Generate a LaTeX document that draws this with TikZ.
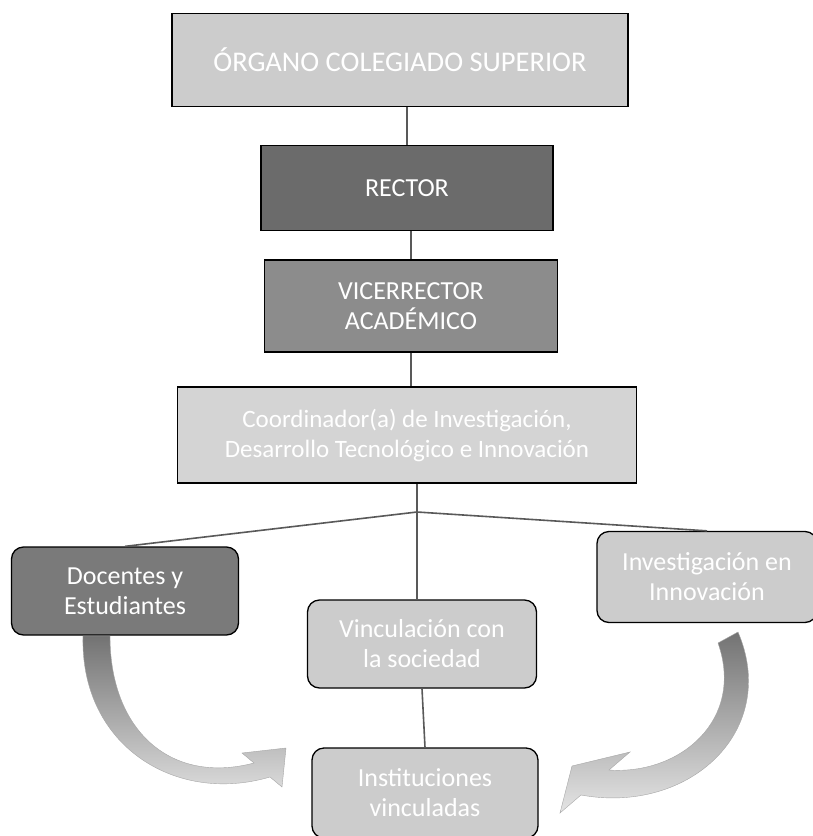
\documentclass[tikz,border=0pt]{standalone}
\usepackage{fontspec}
\setmainfont{Carlito}
\begin{document}
\begin{tikzpicture}[x=1pt,y=-1pt,
  box/.style={draw=black, line width=1.3pt, text=white, align=center, inner sep=0pt},
  rbox/.style={box, rounded corners=12pt},
  lightfill/.style={fill=black!20},
  conn/.style={draw=black!65, line width=1.6pt},
  curv/.style={draw=black!35, line width=0.4pt, top color=black!55, bottom color=black!10},
  toptxt/.style={font=\fontsize{28.5}{33}\selectfont},
  bigtxt/.style={font=\fontsize{26}{30}\selectfont},
  midtxt/.style={font=\fontsize{25}{30}\selectfont}]
\useasboundingbox (0,0) rectangle (813,836);
% boxes
\node[box, lightfill, minimum width=456pt, minimum height=93pt, toptxt] (org) at (400,60) {ÓRGANO COLEGIADO SUPERIOR};
\node[box, fill=black!58, minimum width=292pt, minimum height=85pt, bigtxt] (rector) at (407,188) {RECTOR};
\node[box, fill=black!45, minimum width=293pt, minimum height=92pt, bigtxt] (vice) at (411,306) {VICERRECTOR\\ACADÉMICO};
\node[box, fill=black!17, minimum width=459pt, minimum height=96pt, midtxt] (coord) at (407,435) {Coordinador(a) de Investigación,\\Desarrollo Tecnológico e Innovación};
\node[rbox, fill=black!52, minimum width=227pt, minimum height=88pt, bigtxt] (doc) at (125,591) {Docentes y\\Estudiantes};
\node[rbox, lightfill, minimum width=220pt, minimum height=91pt, bigtxt] (inv) at (707,577) {Investigación en\\Innovación};
\node[rbox, lightfill, minimum width=229pt, minimum height=88pt, bigtxt] (vinc) at (422,644) {Vinculación con\\la sociedad};
\node[rbox, lightfill, minimum width=226pt, minimum height=90pt, bigtxt] (inst) at (425,793) {Instituciones\\vinculadas};
% connectors
\coordinate (branch) at (417,512);
\draw[conn] (rector.north) -- (rector.north |- org.south);
\draw[conn] (rector.south -| vice.north) -- (vice.north);
\draw[conn] (vice.south) -- (vice.south |- coord.north);
\draw[conn] (coord.south -| branch) -- (branch);
\draw[conn] (branch) -- (doc.north);
\draw[conn] (branch) -- (inv.north);
\draw[conn] (branch) -- (vinc.north -| branch);
\draw[conn] (vinc.south) -- (inst.north);
% curved arrows
\path[curv] (83,636) .. controls (80,745) and (175,805) .. (270,777) -- (282,787) -- (286,748) -- (242,753) -- (254,763) .. controls (170,785) and (110,730) .. (110,636) -- cycle;
\path[curv] (718,643) .. controls (745,720) and (680,775) .. (609,770) -- (630,752) -- (572,766) -- (560,813) -- (581,795) .. controls (690,815) and (780,730) .. (738,632) -- cycle;
\end{tikzpicture}
\end{document}
